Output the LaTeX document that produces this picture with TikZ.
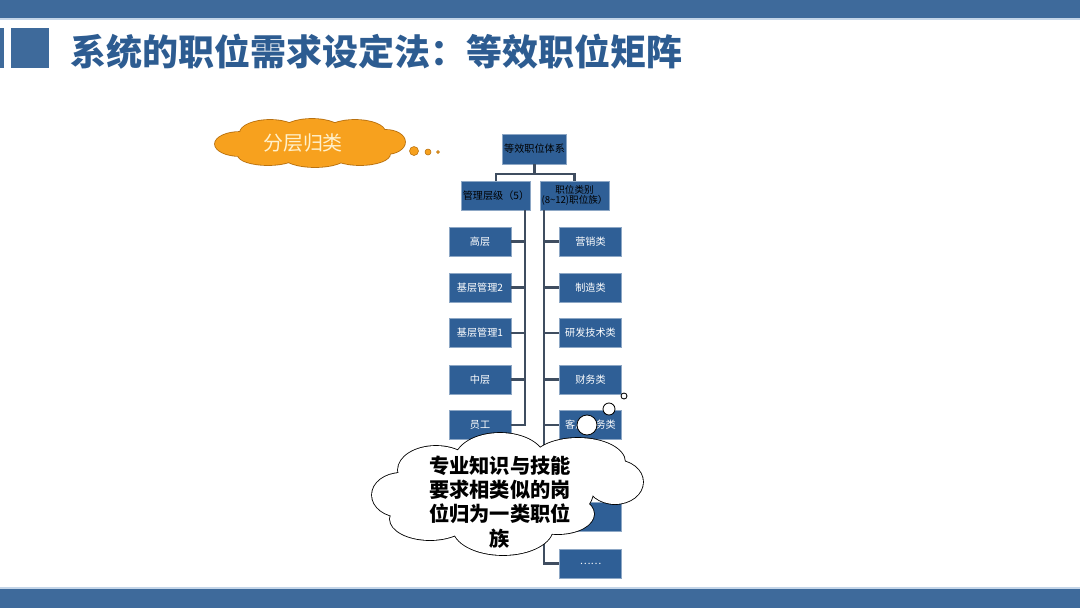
\documentclass[tikz,border=0pt]{standalone}
\usepackage{fontspec}
\setmainfont{Noto Sans CJK SC}
\usepackage{xcolor}
\usepackage{tikz}
\usetikzlibrary{backgrounds}

\definecolor{barblue}{HTML}{3E6A9B}
\definecolor{barlight}{HTML}{C4D5E8}
\definecolor{titleblue}{HTML}{2D5C91}
\definecolor{boxblue}{HTML}{2F5F96}
\definecolor{linegray}{HTML}{3F4D60}
\definecolor{cloudorange}{HTML}{F7A11E}
\definecolor{cloudedge}{HTML}{B9710F}
\definecolor{cloudtext}{HTML}{FFF1CC}

% puffs of the two clouds
\newcommand{\layerpuffs}{
  (240,144) ellipse [x radius=25, y radius=12]
  (270,133) ellipse [x radius=30, y radius=13]
  (312,131) ellipse [x radius=30, y radius=12]
  (355,132) ellipse [x radius=30, y radius=12]
  (386,142) ellipse [x radius=19, y radius=12]
  (360,154) ellipse [x radius=30, y radius=11]
  (315,156) ellipse [x radius=32, y radius=11]
  (268,155) ellipse [x radius=30, y radius=10]
  (310,144) ellipse [x radius=80, y radius=14]}
\newcommand{\familypuffs}{
  (436,470) ellipse [x radius=38, y radius=24]
  (500,460) ellipse [x radius=45, y radius=27]
  (578,462) ellipse [x radius=47, y radius=24]
  (401,495) ellipse [x radius=29, y radius=22]
  (615,482) ellipse [x radius=28, y radius=22]
  (430,519) ellipse [x radius=40, y radius=21]
  (503,528) ellipse [x radius=50, y radius=27]
  (558,514) ellipse [x radius=36, y radius=20]
  (505,492) ellipse [x radius=88, y radius=40]}

\begin{document}
\begin{tikzpicture}[x=0.025cm, y=-0.025cm,
  box/.style = {fill=boxblue, draw=boxblue!55!white, line width=0.4pt,
    minimum width=1.55cm, minimum height=0.725cm, inner sep=1pt,
    text=white, font=\fontsize{7.2}{8.5}\selectfont},
  headbox/.style = {box, text=black, align=center},
  conn/.style = {draw=linegray, line width=1.6pt},
  bubble/.style = {circle, inner sep=0pt}]

\useasboundingbox (0,0) rectangle (1080,608);

% bars and title
\fill[barblue] (0,0) rectangle (1080,18);
\fill[barlight] (0,18) rectangle (1080,20);
\fill[barlight] (0,587) rectangle (1080,589);
\fill[barblue] (0,589) rectangle (1080,608);
\fill[barblue] (0,28) rectangle (4,68);
\fill[barblue] (11,28) rectangle (49,68);
\node (title) at (70,52) [anchor=west, inner sep=0pt, text=titleblue,
  font=\bfseries\fontsize{25.6}{30}\selectfont] {系统的职位需求设定法：等效职位矩阵};

% chart
\node (top) at (534.5,149) [headbox, minimum width=1.575cm, minimum height=0.75cm] {等效职位体系};
\node (mgr) at (496,195.5) [headbox] {管理层级（5）};
\node (cat) at (574.5,195.5) [headbox, font=\fontsize{6.8}{7.6}\selectfont] {职位类别\\(8\textasciitilde12)职位族）};

\node (l1) at (480,241.5) [box] {高层};
\node (l2) at (480,287.5) [box] {基层管理2};
\node (l3) at (480,333) [box] {基层管理1};
\node (l4) at (480,379.5) [box] {中层};
\node (l5) at (480,425) [box] {员工};

\node (r1) at (590.5,241.5) [box] {营销类};
\node (r2) at (590.5,287.5) [box] {制造类};
\node (r3) at (590.5,333) [box] {研发技术类};
\node (r4) at (590.5,379.5) [box] {财务类};
\node (r5) at (590.5,425) [box] {客户服务类};
\node (r6) at (590.5,471) [box] {};
\node (r7) at (590.5,517) [box] {};
\node (r8) at (590.5,563.5) [box] {……};

\draw[conn] (top.south) -- ++(0,10) -| (mgr.north);
\draw[conn] (top.south) -- ++(0,10) -| (cat.north);

\draw[conn] ([xshift=-0.15cm]mgr.south east) |- (l1.east);
\draw[conn] ([xshift=-0.15cm]mgr.south east) |- (l2.east);
\draw[conn] ([xshift=-0.15cm]mgr.south east) |- (l3.east);
\draw[conn] ([xshift=-0.15cm]mgr.south east) |- (l4.east);
\draw[conn] ([xshift=-0.15cm]mgr.south east) |- (l5.east);

\draw[conn] ([xshift=0.1cm]cat.south west) |- (r1.west);
\draw[conn] ([xshift=0.1cm]cat.south west) |- (r2.west);
\draw[conn] ([xshift=0.1cm]cat.south west) |- (r3.west);
\draw[conn] ([xshift=0.1cm]cat.south west) |- (r4.west);
\draw[conn] ([xshift=0.1cm]cat.south west) |- (r5.west);
\draw[conn] ([xshift=0.1cm]cat.south west) |- (r6.west);
\draw[conn] ([xshift=0.1cm]cat.south west) |- (r7.west);
\draw[conn] ([xshift=0.1cm]cat.south west) |- (r8.west);

% orange cloud
\draw[draw=cloudedge, line width=1.2pt, fill=cloudorange] \layerpuffs;
\fill[cloudorange] \layerpuffs;
\node (layer) at (303,143) [text=cloudtext, font=\fontsize{14.2}{16}\selectfont] {分层归类};
\node (o1) at (414,151) [bubble, fill=cloudorange, draw=cloudedge, minimum size=0.225cm] {};
\node (o2) at (428,152) [bubble, fill=cloudorange, draw=cloudedge, minimum size=0.15cm] {};
\node (o3) at (438,152) [bubble, fill=cloudorange, draw=cloudedge, minimum size=0.075cm] {};

% white cloud
\draw[draw=black, line width=1.2pt, fill=white] \familypuffs;
\fill[white] \familypuffs;
\node (family) at (500,502) [align=center,
  font=\bfseries\fontsize{14.4}{17.2}\selectfont] {专业知识与技能\\要求相类似的岗\\位归为一类职位\\族};
\node (w1) at (587,425) [bubble, fill=white, draw=black, line width=0.6pt, minimum size=0.5cm] {};
\node (w2) at (609,409) [bubble, fill=white, draw=black, line width=0.6pt, minimum size=0.3cm] {};
\node (w3) at (624,396) [bubble, fill=white, draw=black, line width=0.6pt, minimum size=0.15cm] {};

\end{tikzpicture}
\end{document}
